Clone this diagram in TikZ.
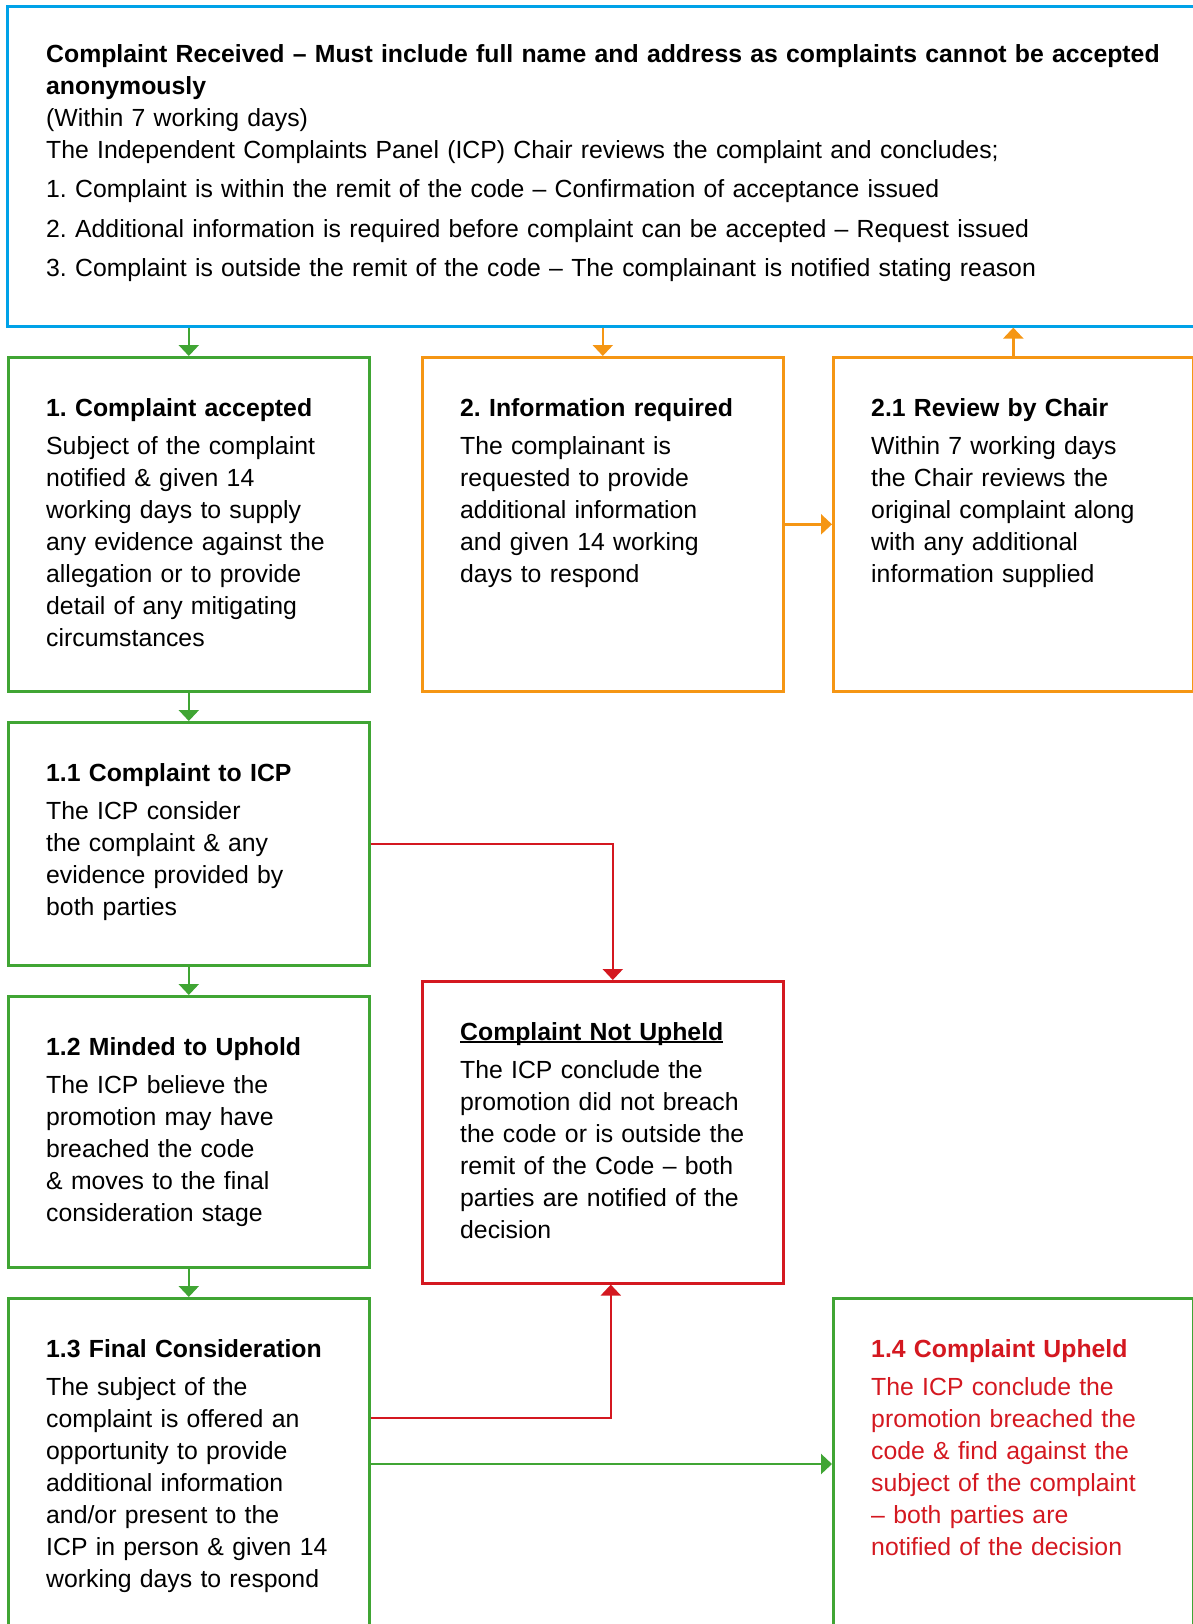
\documentclass[tikz,border=0pt]{standalone}
\usepackage{fontspec}
\setmainfont{Liberation Sans}
\usetikzlibrary{arrows.meta}
\definecolor{cblue}{RGB}{0,162,232}
\definecolor{cgreen}{RGB}{64,165,52}
\definecolor{corange}{RGB}{245,150,20}
\definecolor{cred}{RGB}{212,24,32}
\newcommand\boldul[1]{\setbox0\hbox{#1}\rlap{\rule[-3.2pt]{\wd0}{2.2pt}}\box0}
\frenchspacing
\begin{document}
\begin{tikzpicture}[x=1pt,y=1pt,
    box/.style={draw,line width=2.6pt,anchor=north west,inner sep=0pt,minimum width=361pt},
    txt/.style={anchor=north west,inner sep=0pt,align=left,text width=335pt,font=\fontsize{24.8}{32}\selectfont},
    arr/.style={line width=2.4pt,-{Triangle[width=20pt,length=11pt]}}]
    \useasboundingbox (0,0) rectangle (1193,-1624);
    \clip (0,0) rectangle (1193,-1624);
    \node[box,cblue,minimum width=1250pt,minimum height=320pt] (recv) at (6,-5) {};
    \node[box,cgreen,minimum height=334pt] (acc) at (7,-356) {};
    \node[box,corange,minimum height=334pt] (info) at (421,-356) {};
    \node[box,corange,minimum width=360pt,minimum height=334pt] (rev) at (832,-356) {};
    \node[box,cgreen,minimum height=243pt] (icp) at (7,-721) {};
    \node[box,cgreen,minimum height=271pt] (mind) at (7,-995) {};
    \node[box,cgreen,minimum height=400pt] (fin) at (7,-1297) {};
    \node[box,cred,minimum height=302pt] (notup) at (421,-980) {};
    \node[box,cgreen,minimum width=360pt,minimum height=400pt] (uph) at (832,-1297) {};

    \draw[arr,cgreen] (acc.north |- recv.south) -- (acc.north);
    \draw[arr,corange] (info.north |- recv.south) -- (info.north);
    \draw[arr,corange] (rev.north) -- (rev.north |- recv.south);
    \draw[arr,corange] (info.east) -- (rev.west);
    \draw[arr,cgreen] (acc.south) -- (icp.north);
    \draw[arr,cgreen] (icp.south) -- (mind.north);
    \draw[arr,cgreen] (mind.south) -- (fin.north);
    \draw[arr,cred] (icp.east) -| ([xshift=10pt]notup.north);
    \draw[arr,cred] ([yshift=-121pt]fin.north east) -| ([xshift=8pt]notup.south);
    \draw[arr,cgreen] ([yshift=-167pt]fin.north east) -- ([yshift=-167pt]uph.north west);

    \node[txt,text width=1140pt] (recv-t) at ([shift={(40,-34.6)}]recv.north west)
        {\bfseries\strut Complaint Received – Must include full name and address as complaints cannot be accepted\\
        anonymously\\
        \mdseries(Within 7 working days)\\
        The Independent Complaints Panel (ICP) Chair reviews the complaint and concludes;\\[7.5pt]
        1. Complaint is within the remit of the code – Confirmation of acceptance issued\\[7.5pt]
        2. Additional information is required before complaint can be accepted – Request issued\\[7.5pt]
        3. Complaint is outside the remit of the code – The complainant is notified stating reason};
    \node[txt] (acc-t) at ([shift={(39,-37.6)}]acc.north west)
        {\textbf{\strut 1. Complaint accepted}\\[6pt]
        Subject of the complaint\\ notified \& given 14\\ working days to supply\\ any evidence against the\\
        allegation or to provide\\ detail of any mitigating\\ circumstances};
    \node[txt] (info-t) at ([shift={(39,-37.6)}]info.north west)
        {\textbf{\strut 2. Information required}\\[6pt]
        The complainant is\\ requested to provide\\ additional information\\ and given 14 working\\ days to respond};
    \node[txt] (rev-t) at ([shift={(39,-37.6)}]rev.north west)
        {\textbf{\strut 2.1 Review by Chair}\\[6pt]
        Within 7 working days\\ the Chair reviews the\\ original complaint along\\ with any additional\\ information supplied};
    \node[txt] (icp-t) at ([shift={(39,-37.6)}]icp.north west)
        {\textbf{\strut 1.1 Complaint to ICP}\\[6pt]
        The ICP consider\\ the complaint \& any\\ evidence provided by\\ both parties};
    \node[txt] (mind-t) at ([shift={(39,-37.6)}]mind.north west)
        {\textbf{\strut 1.2 Minded to Uphold}\\[6pt]
        The ICP believe the\\ promotion may have\\ breached the code\\ \& moves to the final\\ consideration stage};
    \node[txt] (fin-t) at ([shift={(39,-37.6)}]fin.north west)
        {\textbf{\strut 1.3 Final Consideration}\\[6pt]
        The subject of the\\ complaint is offered an\\ opportunity to provide\\ additional information\\
        and/or present to the\\ ICP in person \& given 14\\ working days to respond};
    \node[txt] (notup-t) at ([shift={(39,-37.6)}]notup.north west)
        {\textbf{\strut\boldul{Complaint Not Upheld}}\\[6pt]
        The ICP conclude the\\ promotion did not breach\\ the code or is outside the\\ remit of the Code – both\\
        parties are notified of the\\ decision};
    \node[txt,text=cred] (uph-t) at ([shift={(39,-37.6)}]uph.north west)
        {\textbf{\strut 1.4 Complaint Upheld}\\[6pt]
        The ICP conclude the\\ promotion breached the\\ code \& find against the\\ subject of the complaint\\
        – both parties are\\ notified of the decision};
\end{tikzpicture}
\end{document}
